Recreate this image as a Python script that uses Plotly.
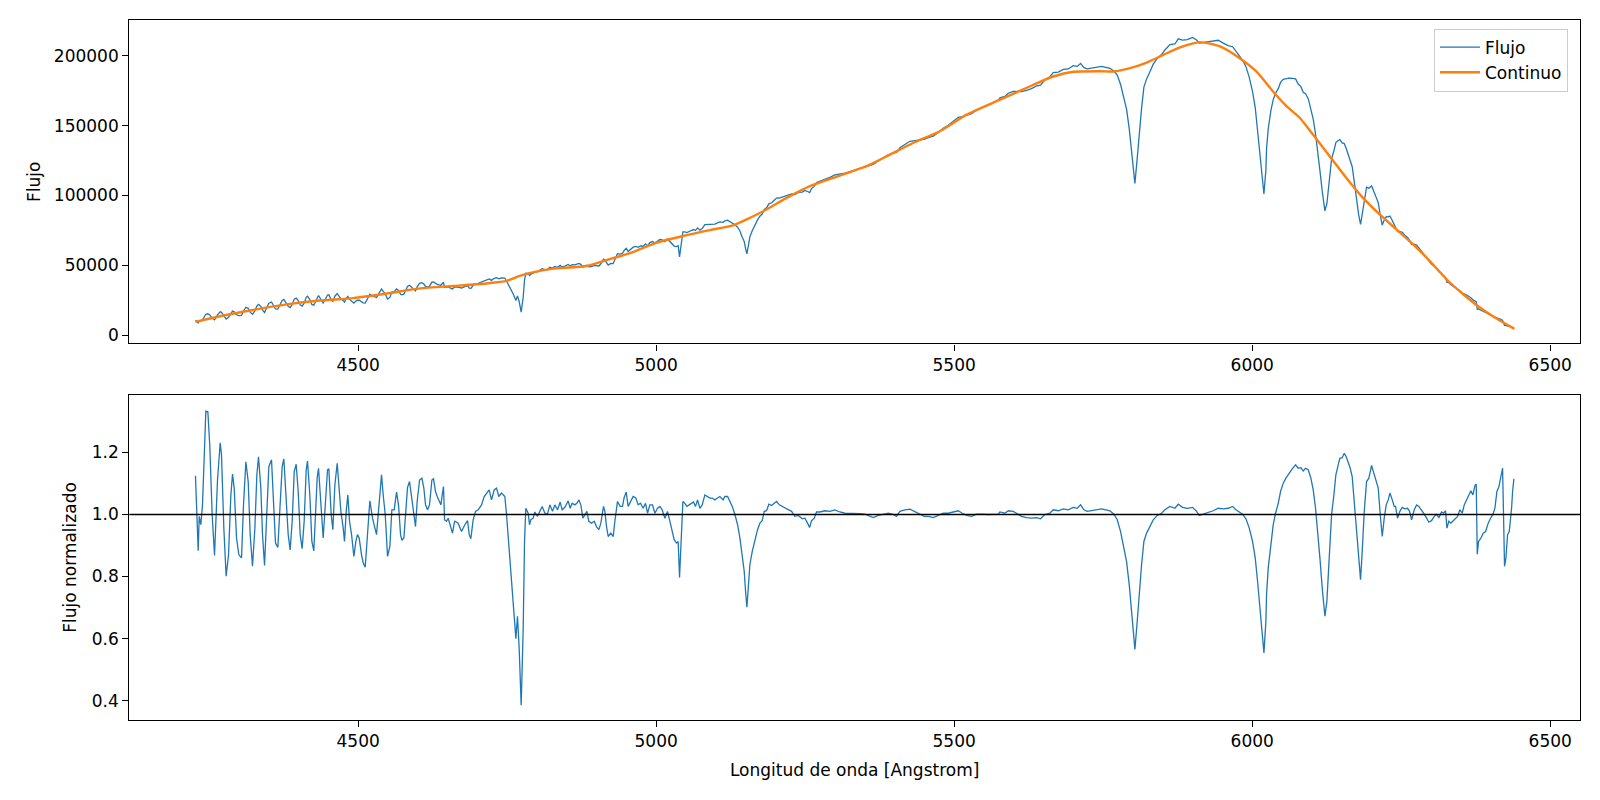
import plotly.graph_objects as go

# ---------------- data ----------------
wavelength = [
    4227.0, 4231.6, 4233.3, 4236.0, 4238.8, 4244.4, 4247.8, 4251.0, 4255.0, 4259.0,
    4264.0, 4268.5, 4270.7, 4274.6, 4278.5, 4282.5, 4286.4, 4289.2, 4292.0, 4295.9,
    4299.8, 4304.3, 4307.6, 4311.6, 4315.5, 4318.8, 4322.7, 4326.7, 4330.0, 4332.8,
    4336.7, 4339.5, 4342.9, 4346.8, 4350.1, 4354.6, 4358.0, 4361.3, 4365.2, 4369.2,
    4372.5, 4375.3, 4378.7, 4382.6, 4385.9, 4389.3, 4392.7, 4396.0, 4399.4, 4402.7,
    4406.0, 4409.4, 4412.8, 4415.0, 4418.9, 4422.3, 4425.6, 4429.0, 4431.2, 4433.5,
    4437.4, 4441.3, 4445.2, 4448.6, 4450.8, 4454.7, 4457.5, 4460.9, 4464.8, 4467.0,
    4471.0, 4474.9, 4477.1, 4479.9, 4482.7, 4485.5, 4488.9, 4492.8, 4496.1, 4498.9,
    4501.7, 4505.6, 4508.4, 4511.8, 4515.1, 4519.6, 4524.1, 4528.0, 4530.8, 4533.6,
    4537.0, 4539.2, 4542.0, 4545.4, 4549.3, 4553.2, 4556.5, 4560.4, 4564.4, 4567.7,
    4571.1, 4573.3, 4576.7, 4579.5, 4582.8, 4586.2, 4589.5, 4592.9, 4596.2, 4599.0,
    4603.0, 4606.9, 4610.2, 4613.0, 4616.4, 4619.7, 4623.7, 4626.4, 4629.8, 4632.6,
    4636.0, 4638.8, 4641.0, 4643.2, 4644.9, 4648.3, 4651.0, 4655.0, 4658.3, 4661.1,
    4662.2, 4667.8, 4673.4, 4679.0, 4683.5, 4686.3, 4689.0, 4693.0, 4696.9, 4701.4,
    4707.0, 4711.4, 4716.4, 4719.8, 4723.7, 4728.2, 4732.1, 4736.0, 4740.5, 4746.1,
    4748.9, 4752.8, 4757.3, 4761.2, 4764.6, 4767.3, 4770.1, 4773.5, 4776.9, 4779.1,
    4781.3, 4785.2, 4787.5, 4789.7, 4793.6, 4796.4, 4800.9, 4804.8, 4808.7, 4813.2,
    4817.7, 4821.6, 4826.1, 4830.0, 4834.5, 4838.9, 4842.3, 4846.8, 4852.4, 4855.7,
    4859.1, 4863.5, 4866.9, 4870.3, 4873.6, 4877.0, 4880.3, 4883.7, 4887.0, 4891.5,
    4896.0, 4899.9, 4903.8, 4907.2, 4911.6, 4913.9, 4916.7, 4919.5, 4923.9, 4927.9,
    4930.7, 4935.1, 4939.6, 4943.5, 4946.3, 4949.7, 4953.0, 4957.0, 4961.4, 4965.9,
    4969.8, 4973.7, 4978.2, 4982.1, 4985.5, 4989.4, 4993.9, 4997.8, 5002.3, 5006.2,
    5010.1, 5014.6, 5019.0, 5023.0, 5026.9, 5030.2, 5034.1, 5036.9, 5039.2, 5042.0,
    5044.8, 5048.1, 5051.5, 5055.4, 5059.3, 5062.7, 5066.0, 5069.4, 5073.3, 5077.2,
    5081.7, 5086.1, 5090.1, 5094.0, 5098.4, 5102.9, 5106.8, 5112.4,
    5115.3, 5119.8, 5123.7, 5127.6, 5132.1, 5136.6, 5140.5, 5144.4, 5147.7, 5150.0,
    5152.2, 5154.5, 5157.2, 5161.2, 5165.6, 5170.1, 5174.0, 5177.9, 5181.3, 5185.2,
    5189.1, 5193.6, 5198.1, 5202.0, 5206.5, 5211.5, 5216.0, 5221.6, 5227.2, 5232.7,
    5238.3, 5245.1, 5249.5, 5254.0, 5257.4, 5260.7, 5265.2, 5269.1, 5274.7, 5283.1,
    5291.5, 5299.9, 5308.3, 5316.7, 5325.0, 5333.4, 5341.8, 5350.2, 5358.6, 5364.2,
    5372.6, 5381.0, 5389.4, 5397.7, 5403.3, 5408.9, 5417.3, 5425.7, 5434.1, 5442.5,
    5449.8, 5456.5, 5464.9, 5473.3, 5481.6, 5490.0, 5498.4, 5506.8, 5513.5, 5520.8,
    5529.2, 5537.6, 5545.9, 5557.1, 5573.9,
    5576.7, 5585.1, 5590.7, 5599.1, 5607.5, 5613.1, 5621.4, 5629.8, 5638.2, 5644.9,
    5652.2, 5660.6, 5666.2, 5674.6, 5683.0, 5691.4, 5699.7, 5706.5, 5712.1, 5717.6,
    5723.2, 5730.5, 5738.9, 5747.3, 5754.5, 5761.3, 5768.0, 5773.6, 5779.2, 5784.8,
    5789.2, 5793.7, 5798.2, 5803.2, 5807.1, 5810.5, 5814.4, 5818.3, 5822.8, 5828.4,
    5834.0, 5840.7, 5848.0, 5853.6, 5861.9, 5870.3, 5875.9, 5883.2, 5891.0, 5900.0,
    5906.7, 5911.2, 5917.9, 5926.3, 5934.6, 5943.0, 5951.4, 5959.8, 5967.1, 5972.7,
    5978.3, 5983.9, 5989.5, 5995.1, 6000.6, 6005.1, 6009.0, 6013.0, 6016.9, 6019.7,
    6023.0,
    6024.1, 6026.9, 6031.4, 6035.3, 6039.2, 6043.7, 6047.6, 6052.1, 6056.5, 6061.6,
    6067.2, 6072.8, 6077.2, 6081.7, 6085.6, 6089.5, 6094.0, 6098.5, 6102.4, 6106.3,
    6109.7, 6113.6, 6117.5, 6122.0, 6125.3, 6128.7, 6133.2, 6137.1, 6140.4, 6144.3,
    6147.1, 6151.1, 6154.4, 6157.8, 6161.1, 6164.5, 6167.8, 6171.2, 6175.1, 6178.5,
    6181.8, 6184.6, 6188.0, 6191.9, 6195.8, 6200.3, 6203.6, 6207.5, 6211.5, 6214.8,
    6218.2, 6221.5, 6224.9, 6228.2, 6231.1, 6235.0, 6238.3, 6240.5, 6243.9, 6247.8,
    6251.7, 6256.2, 6260.7, 6264.1, 6267.4, 6271.9, 6275.8, 6279.7, 6284.2, 6288.6,
    6292.6, 6296.5, 6300.9, 6305.4, 6309.3, 6313.3, 6317.7, 6321.1, 6324.4, 6326.7,
    6330.0, 6333.4, 6337.3, 6341.2, 6344.6, 6348.5, 6352.4, 6355.8, 6359.1, 6363.6,
    6366.9, 6370.3, 6373.7, 6375.9, 6377.6, 6379.8, 6383.7, 6387.7, 6391.6, 6396.0,
    6400.0, 6403.9, 6407.2, 6410.6, 6414.0, 6417.3, 6420.1, 6421.8, 6423.4, 6425.7,
    6428.5, 6431.3, 6433.5, 6435.2, 6436.9, 6439.1,
]

flujo = [
    10700, 8790, 10040, 10060, 10980, 14930, 15310, 14440, 12200, 10940,
    14550, 16680, 16330, 13430, 11490, 12790, 15950, 17230, 16760, 14600,
    14010, 14150, 17270, 19950, 19190, 16460, 14910, 17400, 20760, 22060,
    20510, 17860, 16180, 19600, 22910, 23700, 21030, 18750, 18680, 22540,
    24750, 25530, 23280, 20710, 19760, 21960, 25780, 26490, 24700, 21650,
    20740, 22930, 27060, 27840, 25460, 22000, 21460, 24450, 27420, 28380,
    25620, 23010, 26050, 28710, 28900, 25300, 24110, 27870, 29770, 28500,
    26010, 24710, 23650, 26260, 27740, 25570, 24540, 22920, 24380, 25100,
    24990, 23710, 23130, 22950, 26040, 29340, 28060, 27340, 26930, 28950,
    31630, 33050, 31310, 29650, 25820, 27000, 30810, 31060, 33070, 32060,
    29270, 28840, 29290, 31850, 34890, 35720, 34280, 32750, 31710, 34540,
    37110, 37530, 36560, 34850, 34410, 35050, 37940, 38130, 36840, 36400,
    35950, 35620, 36830, 37820, 34160, 34080, 34530, 33680, 33040, 34210,
    34470, 34460, 33690, 34670, 35280, 33750, 33330, 35680, 36760, 37100,
    37890, 39040, 39660, 40190, 39210, 40680, 41120, 40310, 41000, 40890,
    38800, 35540, 32360, 28520, 24810, 28090, 24080, 16420, 27310, 39490,
    44320, 44080, 42640, 43600, 44260, 45460, 45280, 46460, 47500, 46840,
    47000, 48660, 48030, 49180, 48570, 49920, 48820, 49360, 50580, 49520,
    50400, 50310, 50710, 51360, 50670, 48710, 49400, 50100, 48900, 49130,
    49980, 49590, 49550, 51080, 54430, 53880, 51610, 50210, 51320, 51190,
    54230, 58350, 58020, 58580, 60660, 62120, 59920, 61430, 63000, 63500,
    62840, 63820, 63650, 65320, 63900, 66290, 67020, 65910, 67680, 68540,
    68210, 66890, 68830, 67090, 65210, 63780, 63380, 64000, 56070, 64500,
    73930, 73870, 73460, 74230, 75010, 75610, 74900, 76800, 75170, 76350,
    79140, 79190, 79190, 79550, 79520, 80340, 81100, 80780,
    81890, 82310, 81430, 80540, 79100, 77310, 74610, 70050, 67080, 62040,
    58150, 63630, 70390, 74750, 78850, 82550, 85150, 86680, 90090, 91130,
    94000, 94770, 96560, 98100, 98200, 98960, 99500, 100330, 101100, 100690,
    102190, 102450, 103640, 102840, 102120, 104960, 106510, 109270, 110070, 111830,
    112920, 114700, 115210, 115960, 117170, 118240, 119660, 120720, 121470, 122170,
    124720, 126930, 129110, 130400, 130810, 134230, 136620, 138820, 139310, 139800,
    140250, 141450, 142460, 145060, 148090, 150300, 153120, 155950, 156520, 157330,
    158540, 161260, 162860, 164800, 168170,
    169950, 170880, 173250, 174530, 174570, 174450, 175330, 176560, 178500, 178960,
    182800, 185040, 187980, 188330, 190260, 190620, 192940, 192420, 194550, 191580,
    190690, 191120, 191780, 192400, 191730, 191120, 189090, 186180, 179460, 170700,
    161900, 147910, 129710, 108650, 126540, 145440, 162570, 177580, 183490, 188640,
    194040, 198100, 200900, 204220, 208070, 208490, 212180, 211250, 211550, 213190,
    211290, 209070, 209510, 210170, 210190, 211140, 209100, 207260, 206530, 202900,
    200090, 196800, 192270, 184600, 174380, 162970, 147420, 129870, 112670, 101050,
    118540,
    133630, 147620, 160960, 168640, 173190, 176530, 180970, 183210, 183750, 183990,
    183860, 183510, 179820, 177940, 173850, 172810, 169310, 162520, 154730, 144020,
    133170, 117990, 103010, 89040, 94100, 109350, 126300, 132020, 137950, 139430,
    140070, 137700, 137180, 133660, 129750, 125470, 120620, 110140, 96960, 86600,
    79240, 87130, 98480, 105960, 105220, 106880, 103440, 99100, 94940, 86100,
    78780, 82500, 84750, 84700, 85310, 82080, 79100, 78280, 74100, 74240,
    73660, 71570, 69970, 67970, 64880, 65160, 64440, 62480, 59890, 57160,
    54830, 52460, 50670, 49300, 47800, 45440, 44250, 42470, 41190, 37950,
    37560, 36060, 34890, 33790, 32700, 31870, 30020, 29590, 28900, 27640,
    26790, 25190, 24590, 23940, 18490, 18720, 17830, 17110, 16160, 15450,
    14520, 13610, 12950, 12620, 11770, 11280, 10570, 8690, 7000, 6790,
    6730, 6240, 5970, 5810, 5690, 5240,
]

flujo_normalizado = [
    1.125, 0.883, 0.994, 0.967, 1.031, 1.333, 1.331, 1.224, 1.000, 0.868,
    1.111, 1.231, 1.192, 0.956, 0.801, 0.870, 1.063, 1.130, 1.085, 0.924,
    0.870, 0.860, 1.031, 1.170, 1.106, 0.935, 0.833, 0.956, 1.128, 1.186,
    1.085, 0.935, 0.836, 1.000, 1.154, 1.176, 1.031, 0.908, 0.894, 1.063,
    1.154, 1.179, 1.063, 0.935, 0.886, 0.978, 1.138, 1.162, 1.074, 0.935,
    0.890, 0.978, 1.144, 1.172, 1.063, 0.913, 0.883, 1.000, 1.117, 1.149,
    1.031, 0.924, 1.042, 1.144, 1.147, 1.000, 0.951, 1.095, 1.165, 1.111,
    1.010, 0.956, 0.913, 1.010, 1.063, 0.978, 0.935, 0.865, 0.913, 0.935,
    0.924, 0.870, 0.844, 0.830, 0.935, 1.044, 0.988, 0.956, 0.935, 1.000,
    1.085, 1.128, 1.063, 1.000, 0.865, 0.897, 1.015, 1.015, 1.072, 1.031,
    0.935, 0.917, 0.924, 1.000, 1.087, 1.106, 1.053, 1.000, 0.961, 1.042,
    1.111, 1.117, 1.085, 1.031, 1.015, 1.031, 1.111, 1.115, 1.074, 1.058,
    1.042, 1.031, 1.063, 1.090, 0.983, 0.978, 0.988, 0.961, 0.940, 0.972,
    0.978, 0.972, 0.945, 0.967, 0.980, 0.935, 0.922, 0.983, 1.010, 1.015,
    1.031, 1.058, 1.069, 1.079, 1.047, 1.079, 1.085, 1.058, 1.069, 1.058,
    1.000, 0.902, 0.806, 0.699, 0.600, 0.672, 0.570, 0.385, 0.635, 0.913,
    1.020, 1.004, 0.967, 0.983, 0.988, 1.008, 0.994, 1.010, 1.026, 1.004,
    1.001, 1.031, 1.010, 1.031, 1.015, 1.040, 1.015, 1.023, 1.044, 1.020,
    1.036, 1.031, 1.036, 1.047, 1.031, 0.988, 1.000, 1.010, 0.978, 0.972,
    0.978, 0.961, 0.951, 0.972, 1.026, 1.010, 0.961, 0.929, 0.940, 0.929,
    0.978, 1.042, 1.026, 1.026, 1.055, 1.072, 1.026, 1.042, 1.058, 1.053,
    1.031, 1.036, 1.020, 1.036, 1.004, 1.031, 1.031, 1.004, 1.020, 1.026,
    1.015, 0.988, 1.010, 0.978, 0.945, 0.919, 0.908, 0.913, 0.797, 0.913,
    1.042, 1.036, 1.026, 1.031, 1.036, 1.040, 1.026, 1.047, 1.020, 1.031,
    1.063, 1.058, 1.053, 1.053, 1.047, 1.053, 1.058, 1.047,
    1.058, 1.058, 1.042, 1.026, 1.000, 0.967, 0.924, 0.860, 0.817, 0.752,
    0.701, 0.763, 0.838, 0.881, 0.919, 0.951, 0.972, 0.980, 1.010, 1.012,
    1.033, 1.029, 1.036, 1.042, 1.031, 1.026, 1.020, 1.015, 1.010, 0.994,
    0.997, 0.986, 0.988, 0.972, 0.958, 0.980, 0.988, 1.008, 1.008, 1.012,
    1.010, 1.015, 1.008, 1.004, 1.004, 1.002, 1.003, 1.001, 0.994, 0.990,
    0.997, 1.001, 1.004, 1.000, 0.994, 1.010, 1.015, 1.017, 1.008, 1.000,
    0.994, 0.994, 0.990, 0.997, 1.004, 1.004, 1.008, 1.012, 1.004, 0.997,
    0.994, 1.001, 1.001, 1.000, 1.001,
    1.008, 1.004, 1.012, 1.010, 1.001, 0.994, 0.990, 0.988, 0.990, 0.986,
    1.000, 1.004, 1.015, 1.012, 1.018, 1.015, 1.023, 1.020, 1.031, 1.015,
    1.010, 1.012, 1.015, 1.018, 1.015, 1.012, 1.001, 0.983, 0.945, 0.897,
    0.849, 0.774, 0.677, 0.565, 0.656, 0.752, 0.838, 0.913, 0.940, 0.961,
    0.983, 0.997, 1.004, 1.015, 1.026, 1.020, 1.033, 1.023, 1.020, 1.023,
    1.010, 0.997, 1.001, 1.008, 1.012, 1.020, 1.018, 1.020, 1.026, 1.015,
    1.008, 1.001, 0.986, 0.956, 0.913, 0.860, 0.785, 0.699, 0.613, 0.554,
    0.656,
    0.742, 0.827, 0.913, 0.967, 1.004, 1.036, 1.074, 1.101, 1.117, 1.133,
    1.147, 1.160, 1.149, 1.151, 1.140, 1.149, 1.144, 1.117, 1.079, 1.020,
    0.956, 0.860, 0.763, 0.672, 0.720, 0.849, 1.000, 1.063, 1.128, 1.160,
    1.181, 1.183, 1.197, 1.186, 1.170, 1.149, 1.122, 1.042, 0.935, 0.849,
    0.790, 0.881, 1.010, 1.106, 1.117, 1.158, 1.138, 1.111, 1.085, 1.000,
    0.929, 0.988, 1.031, 1.047, 1.069, 1.047, 1.026, 1.026, 0.988, 1.010,
    1.023, 1.018, 1.020, 1.010, 0.983, 1.015, 1.031, 1.026, 1.015, 1.001,
    0.988, 0.975, 0.980, 0.994, 1.000, 0.990, 1.008, 1.004, 1.012, 0.956,
    0.978, 0.972, 0.980, 0.988, 0.994, 1.015, 1.004, 1.031, 1.047, 1.063,
    1.076, 1.063, 1.093, 1.098, 0.872, 0.913, 0.924, 0.940, 0.945, 0.972,
    0.988, 1.001, 1.020, 1.074, 1.090, 1.128, 1.149, 0.988, 0.833, 0.860,
    0.935, 0.945, 0.978, 1.020, 1.074, 1.115,
]

wavelength_continuo = [
    4227, 4268, 4324, 4380, 4436, 4492, 4548, 4604, 4660, 4715,
    4749, 4771, 4805, 4827, 4883, 4911, 4939, 4961, 5001, 5045,
    5090, 5129, 5152, 5185, 5219, 5258, 5297, 5353, 5387, 5431,
    5476, 5521, 5577, 5633, 5666, 5700, 5745, 5767, 5795, 5823,
    5851, 5879, 5912, 5946, 5979, 6007, 6035, 6058, 6080, 6102,
    6130, 6158, 6186, 6214, 6242, 6270, 6298, 6326, 6354, 6382,
    6410, 6440,
]
continuo = [
    9500, 13500, 18000, 22000, 24800, 26500, 29800, 33500, 35200, 37000,
    38800, 42400, 46000, 47600, 49500, 53000, 56500, 59500, 66200, 71000,
    75200, 78600, 82900, 90000, 98300, 106700, 112600, 121000, 128100, 137600,
    146000, 157900, 168600, 179300, 185200, 188600, 189000, 188800, 191200, 195200,
    200700, 206000, 209800, 206700, 198300, 188800, 174500, 163800, 155500, 143600,
    128100, 112600, 98300, 86400, 75700, 65000, 53100, 40000, 29300, 19800,
    11900, 4500,
]

x_ticks = [4500, 5000, 5500, 6000, 6500]
flujo_ticks = [0, 50000, 100000, 150000, 200000]
norm_ticks = [0.4, 0.6, 0.8, 1.0, 1.2]
nivel_referencia = 1.0

# ---------------- figure ----------------
BLUE = "#1f77b4"
ORANGE = "#ff7f0e"
FONT = "DejaVu Sans"

fig = go.Figure()
fig.add_trace(go.Scatter(
    x=wavelength, y=flujo, mode="lines", name="Flujo",
    line=dict(color=BLUE, width=1.3), xaxis="x", yaxis="y"))
fig.add_trace(go.Scatter(
    x=wavelength_continuo, y=continuo, mode="lines", name="Continuo",
    line=dict(color=ORANGE, width=2.4, shape="spline", smoothing=0.6),
    xaxis="x", yaxis="y"))
fig.add_trace(go.Scatter(
    x=wavelength, y=flujo_normalizado, mode="lines", showlegend=False,
    line=dict(color=BLUE, width=1.3), xaxis="x2", yaxis="y2"))

fig.add_shape(type="line", xref="x2 domain", x0=0, x1=1,
              yref="y2", y0=nivel_referencia, y1=nivel_referencia,
              line=dict(color="black", width=1.6), layer="above")

axis_common = dict(
    showline=True, linecolor="black", linewidth=1.3, mirror=True,
    ticks="outside", ticklen=6, tickwidth=1.3, tickcolor="black",
    showgrid=False, zeroline=False,
    tickfont=dict(family=FONT, size=17, color="black"),
)

x_dom = [129.3 / 1600, 1580 / 1600]
x_range = [4116, 6550]

fig.update_layout(
    width=1600, height=800,
    margin=dict(l=0, r=0, t=0, b=0),
    paper_bgcolor="white", plot_bgcolor="white",
    font=dict(family=FONT, size=17, color="black"),
    xaxis=dict(domain=x_dom, range=x_range, tickvals=x_ticks, anchor="y",
               **axis_common),
    yaxis=dict(domain=[1 - 344.3 / 800, 1 - 20 / 800], range=[-5950, 225700],
               tickvals=flujo_ticks, tickformat="d", anchor="x",
               title=dict(text="Flujo", font=dict(family=FONT, size=17), standoff=8),
               **axis_common),
    xaxis2=dict(domain=x_dom, range=x_range, tickvals=x_ticks, anchor="y2",
                title=dict(text="Longitud de onda [Angstrom]",
                           font=dict(family=FONT, size=17), standoff=13),
                **axis_common),
    yaxis2=dict(domain=[1 - 721.7 / 800, 1 - 396 / 800], range=[0.338, 1.385],
                tickvals=norm_ticks, tickformat=".1f", anchor="x2",
                title=dict(text="Flujo normalizado", font=dict(family=FONT, size=17), standoff=10),
                **axis_common),
    legend=dict(x=0.98, y=1 - 28.6 / 800, xanchor="right", yanchor="top",
                bgcolor="rgba(255,255,255,0.8)", bordercolor="#cccccc", borderwidth=1,
                itemwidth=40, tracegroupgap=4,
                font=dict(family=FONT, size=17, color="black")),
    showlegend=True,
)

fig.write_html("out.html")
